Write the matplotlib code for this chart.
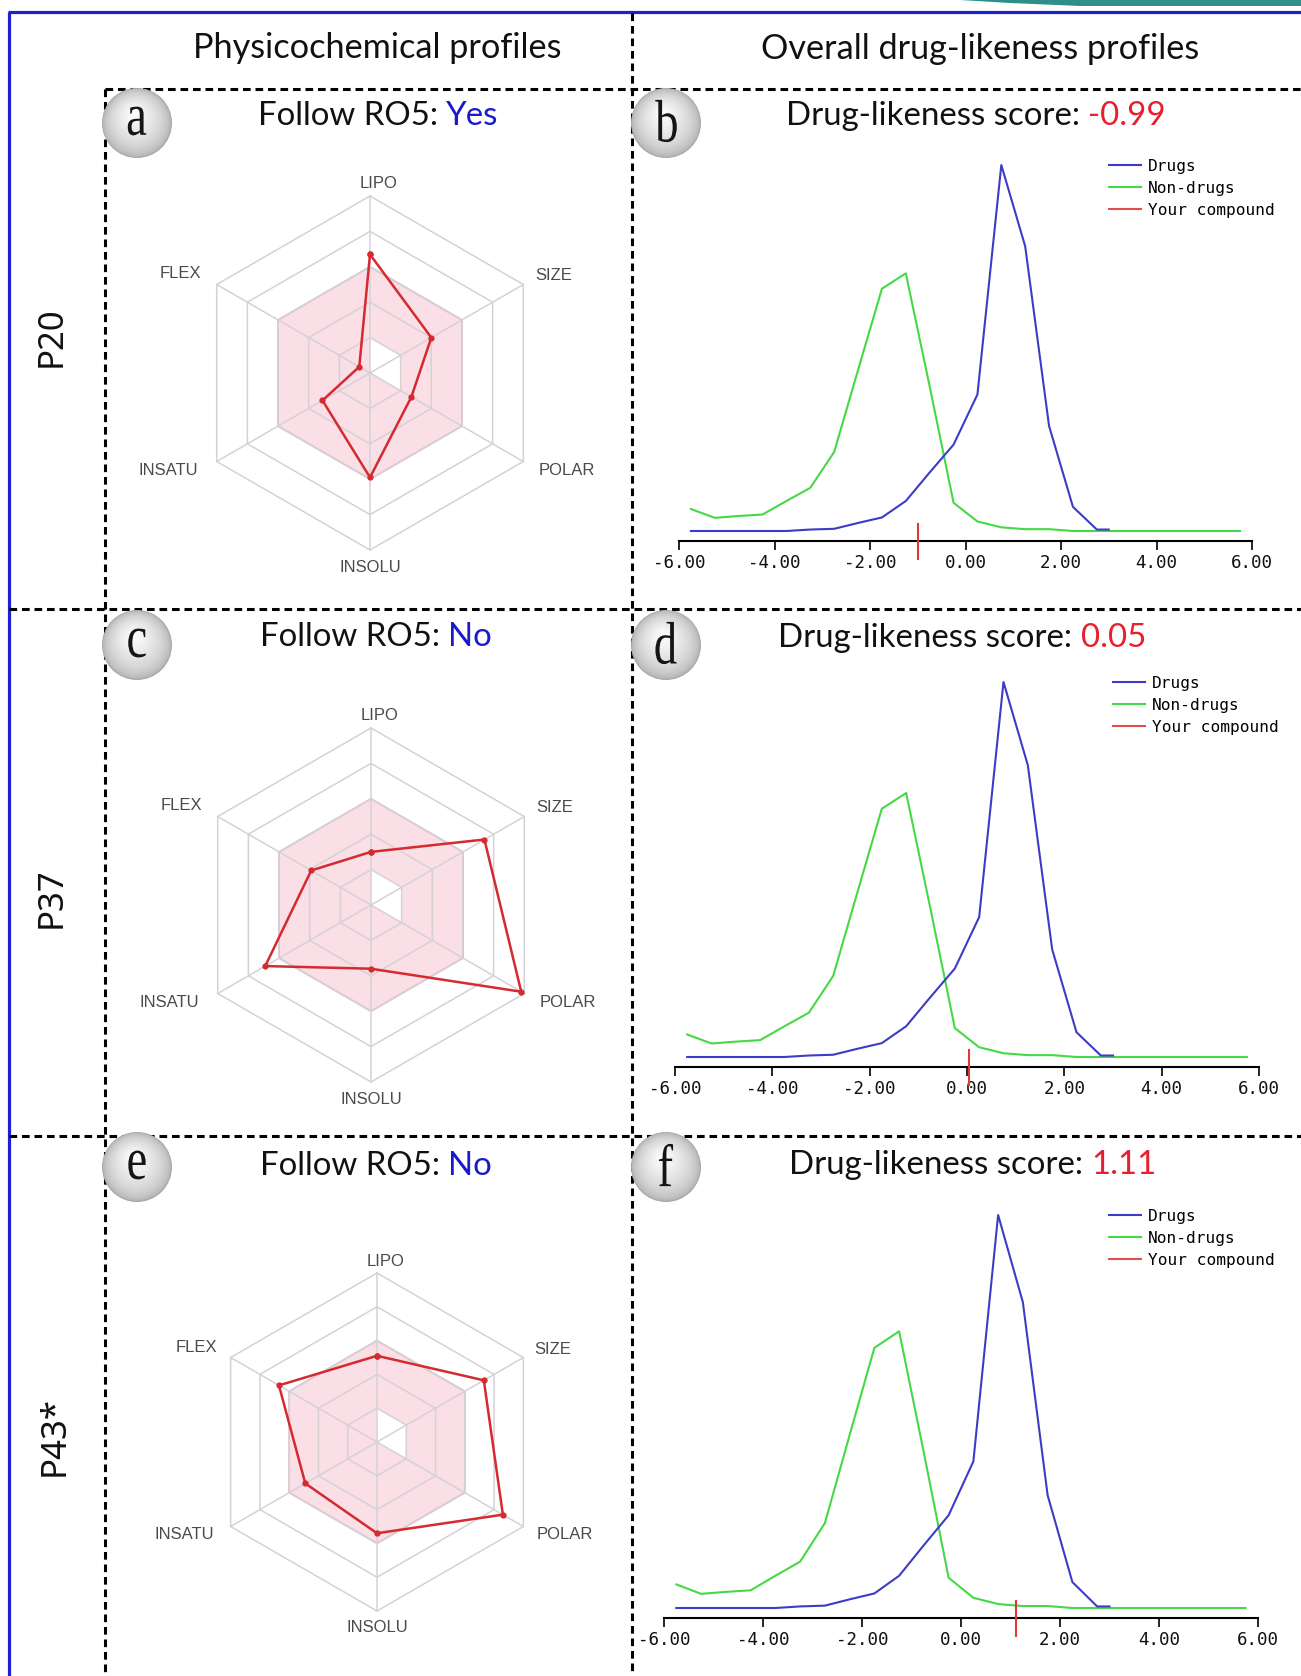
import numpy as np
import matplotlib
matplotlib.use("Agg")
import matplotlib.pyplot as plt
from matplotlib.lines import Line2D
from matplotlib.textpath import TextPath
from matplotlib.patches import PathPatch, Circle
from matplotlib.font_manager import FontProperties
from matplotlib.transforms import Affine2D

plt.rcParams['lines.scale_dashes'] = False

W, H, DPI = 1301, 1676, 100

# ---------------- data ----------------
compounds = ["P20", "P37", "P43*"]
follow_ro5 = ["Yes", "No", "No"]
druglikeness_scores = [-0.99, 0.05, 1.11]
panel_letters = ["a", "b", "c", "d", "e", "f"]

radar_properties = ["LIPO", "SIZE", "POLAR", "INSOLU", "INSATU", "FLEX"]
radar_angles_deg = [90, 30, -30, -90, -150, 150]
radar_ring_levels = [0.2, 0.4, 0.6, 0.8, 1.0]
optimal_upper = [0.6, 0.6, 0.6, 0.6, 0.6, 0.6]
optimal_lower = [0.2, 0.2, 0.2, 0.0, 0.0, 0.0]
profile_p20 = [0.67, 0.40, 0.27, 0.59, 0.31, 0.07]
profile_p37 = [0.30, 0.74, 0.98, 0.36, 0.69, 0.39]
profile_p43 = [0.51, 0.73, 0.86, 0.54, 0.49, 0.67]
profiles = [profile_p20, profile_p37, profile_p43]

score_drugs = [-5.75, -5.25, -4.75, -4.25, -3.75, -3.25, -2.75, -2.25, -1.75,
               -1.25, -0.75, -0.25, 0.25, 0.75, 1.25, 1.75, 2.25, 2.75, 3.00]
density_drugs = [0.000, 0.000, 0.000, 0.000, 0.000, 0.004, 0.006, 0.022, 0.037,
                 0.082, 0.160, 0.236, 0.373, 1.000, 0.778, 0.287, 0.066, 0.004, 0.004]
score_nondrugs = [-5.75, -5.25, -4.75, -4.25, -3.75, -3.25, -2.75, -2.25, -1.75,
                  -1.25, -0.75, -0.25, 0.25, 0.75, 1.25, 1.75, 2.25, 2.75, 3.25,
                  3.75, 4.25, 4.75, 5.25, 5.75]
density_nondrugs = [0.060, 0.036, 0.041, 0.045, 0.082, 0.118, 0.216, 0.440, 0.662,
                    0.704, 0.395, 0.077, 0.026, 0.010, 0.005, 0.005, 0.000, 0.000, 0.000,
                    0.000, 0.000, 0.000, 0.000, 0.000]
score_ticks = [-6, -4, -2, 0, 2, 4, 6]
legend_labels = ["Drugs", "Non-drugs", "Your compound"]

# ---------------- layout (pixels) ----------------
radar_layout = [(370, 373, 177), (371, 905, 177), (377, 1442, 169)]
dist_layout = [(679, 1252, 541, 366, (1109, 169)),
               (675, 1259, 1067, 375, (1113, 686)),
               (664, 1258, 1618, 393, (1109, 1219))]
label_offsets = [(0.05, 1.07), (1.04, 0.55), (1.11, -0.55), (0.0, -1.10),
                 (-1.14, -0.55), (-1.07, 0.56)]

C_BLUE = '#3c3cc6'
C_GREEN = '#46d846'
C_RED = '#e03838'

fig = plt.figure(figsize=(W / DPI, H / DPI), dpi=DPI)
fig.patch.set_facecolor('white')


def frect(x, y, w, h):
    return [x / W, 1 - (y + h) / H, w / W, h / H]


ang = np.deg2rad(radar_angles_deg)


def polar_xy(vals):
    v = np.asarray(vals, dtype=float)
    x = v * np.cos(ang)
    y = v * np.sin(ang)
    return np.append(x, x[0]), np.append(y, y[0])


# ---------------- radar charts ----------------
for i, prof in enumerate(profiles):
    cx, cy, R = radar_layout[i]
    m = 1.45
    ax = fig.add_axes(frect(cx - m * R, cy - m * R, 2 * m * R, 2 * m * R))
    ax.set_xlim(-m, m)
    ax.set_ylim(-m, m)
    ax.axis('off')
    ax.fill(*polar_xy(optimal_upper), facecolor='#fadfe7', edgecolor='#d9b0c2',
            lw=1.2, zorder=1)
    ax.fill(*polar_xy(optimal_lower), facecolor='white', edgecolor='none', zorder=1.5)
    for lv in radar_ring_levels:
        ax.plot(*polar_xy([lv] * 6), color='#d6d2d4', lw=1.1, zorder=2)
    for a in ang:
        ax.plot([0, np.cos(a)], [0, np.sin(a)], color='#d6d2d4', lw=1.1, zorder=2)
    ax.plot(*polar_xy(prof), color='#d42a30', lw=1.8, marker='o', ms=3.5, zorder=3)
    for name, (ox, oy) in zip(radar_properties, label_offsets):
        ax.text(ox, oy, name, ha='center', va='center', fontsize=12,
                family='Liberation Sans', color='#4a4a4a')

# ---------------- drug-likeness distributions ----------------
for i, s in enumerate(druglikeness_scores):
    x0, x1, yax, ppu, (lx, ly) = dist_layout[i]
    top = yax - 430
    ax = fig.add_axes(frect(x0, top, x1 - x0, yax - top))
    ybot = -10.0 / ppu
    ytop = ybot + (yax - top) / ppu
    ax.set_xlim(-6, 6)
    ax.set_ylim(ybot, ytop)
    ax.patch.set_alpha(0)
    ax.plot(score_nondrugs, density_nondrugs, color=C_GREEN, lw=1.5, clip_on=False)
    ax.plot(score_drugs, density_drugs, color=C_BLUE, lw=1.5, clip_on=False)
    ax.plot([s, s], [ybot - 18 / ppu, ybot + 17 / ppu], color=C_RED, lw=1.5,
            clip_on=False, zorder=5)
    for sp in ['top', 'right', 'left']:
        ax.spines[sp].set_visible(False)
    ax.spines['bottom'].set_linewidth(1.5)
    ax.set_xticks(score_ticks)
    ax.set_xticklabels([f"{t:.2f}" for t in score_ticks], family='DejaVu Sans Mono',
                       fontsize=12.6, color='#111111')
    ax.tick_params(axis='x', length=6.5, width=1.2, pad=3.0, direction='out')
    ax.set_yticks([])
    handles = [Line2D([], [], color=C_BLUE, lw=1.5),
               Line2D([], [], color=C_GREEN, lw=1.5),
               Line2D([], [], color='#e05050', lw=1.5)]
    ax.legend(handles, legend_labels, loc='upper left',
              bbox_to_anchor=(lx / W, 1 - (ly - 10) / H), bbox_transform=fig.transFigure,
              frameon=False, borderpad=0, borderaxespad=0, handlelength=2.0,
              handletextpad=0.4, labelspacing=0.42,
              prop={'family': 'DejaVu Sans Mono', 'size': 11.6})

# ---------------- overlay (frame, titles, labels) ----------------
ov = fig.add_axes([0, 0, 1, 1], zorder=10)
ov.set_xlim(0, W)
ov.set_ylim(H, 0)
ov.axis('off')
ov.patch.set_visible(False)

# top-right decoration + blue frame
ov.fill([960, 1301, 1301, 1080, 1010], [0, 0, 6, 6, 3], color='#2e8f8a', lw=0)
ov.plot([9, 9], [12, H], color='#1f1fd0', lw=2.3, solid_capstyle='butt')
ov.plot([8, W], [12, 12], color='#1f1fd0', lw=2.3, solid_capstyle='butt')

dash = dict(color='black', lw=2.2, dashes=(5.5, 3.5))
ov.plot([105, W], [89, 89], **dash)
ov.plot([9, W], [609, 609], **dash)
ov.plot([9, W], [1136, 1136], **dash)
ov.plot([632, 632], [13, H], **dash)
ov.plot([105, 105], [89, H], **dash)

renderer = fig.canvas.get_renderer()


def text_width(s, fs, family):
    t = ov.text(0, 0, s, fontsize=fs, family=family)
    w = t.get_window_extent(renderer).width
    t.remove()
    return w


FONT_T = 'Lato'
header_fs = 20 * 441 / text_width("Overall drug-likeness profiles", 20, FONT_T)
sub_fs = 20 * 382 / text_width("Drug-likeness score: -0.99", 20, FONT_T)

ov.text(377, 58, "Physicochemical profiles", fontsize=header_fs, family=FONT_T,
        ha='center', va='baseline', color='#111111')
ov.text(980, 59, "Overall drug-likeness profiles", fontsize=header_fs, family=FONT_T,
        ha='center', va='baseline', color='#111111')


def two_part(cx, base_y, p1, p2, c2):
    wf = text_width(p1 + p2, sub_fs, FONT_T)
    w2 = text_width(p2, sub_fs, FONT_T)
    left = cx - wf / 2
    ov.text(left, base_y, p1, fontsize=sub_fs, family=FONT_T, ha='left',
            va='baseline', color='#111111')
    ov.text(left + wf - w2, base_y, p2, fontsize=sub_fs, family=FONT_T, ha='left',
            va='baseline', color=c2)


left_sub = [(378, 125), (376, 646), (376, 1175)]
right_sub = [(976, 125), (962, 647), (973, 1174)]
for i in range(3):
    two_part(*left_sub[i], "Follow RO5: ", follow_ro5[i], '#1a1acd')
    two_part(*right_sub[i], "Drug-likeness score: ", f"{druglikeness_scores[i]:.2f}",
             '#e8202e')

row_label_pos = [(52, 337), (52, 898), (55, 1436)]
for (x, y), name in zip(row_label_pos, compounds):
    ov.text(x, y, name, rotation=90, ha='center', va='center', fontsize=25,
            family='Noto Sans', color='#111111')


def ball(cx, cy, r, letter):
    n = 40
    hx, hy = cx - 0.10 * r, cy - 0.30 * r
    for k in range(n):
        t = k / (n - 1)
        rad = r * (1 - 0.97 * t)
        x = cx + (hx - cx) * t
        y = cy + (hy - cy) * t
        g = 0.66 + 0.335 * (t ** 0.5)
        ov.add_patch(Circle((x, y), rad, facecolor=(g, g, g), edgecolor='none',
                            zorder=20 + k * 0.01))
    fp = FontProperties(family='Liberation Serif')
    tp = TextPath((0, 0), letter, size=1, prop=fp)
    ext = tp.get_extents()
    em = 60
    tr = (Affine2D().translate(-(ext.x0 + ext.x1) / 2, -(ext.y0 + ext.y1) / 2)
          .scale(em * 0.78, -em).translate(cx, cy - 2))
    ov.add_patch(PathPatch(tr.transform_path(tp), facecolor='#151515',
                           edgecolor='none', zorder=25))


ball_pos = [(137, 123), (666, 123), (137, 645), (666, 645), (137, 1167), (666, 1167)]
for (x, y), letter in zip(ball_pos, panel_letters):
    ball(x, y, 35, letter)

fig.savefig("out.png", dpi=DPI, facecolor='white')
